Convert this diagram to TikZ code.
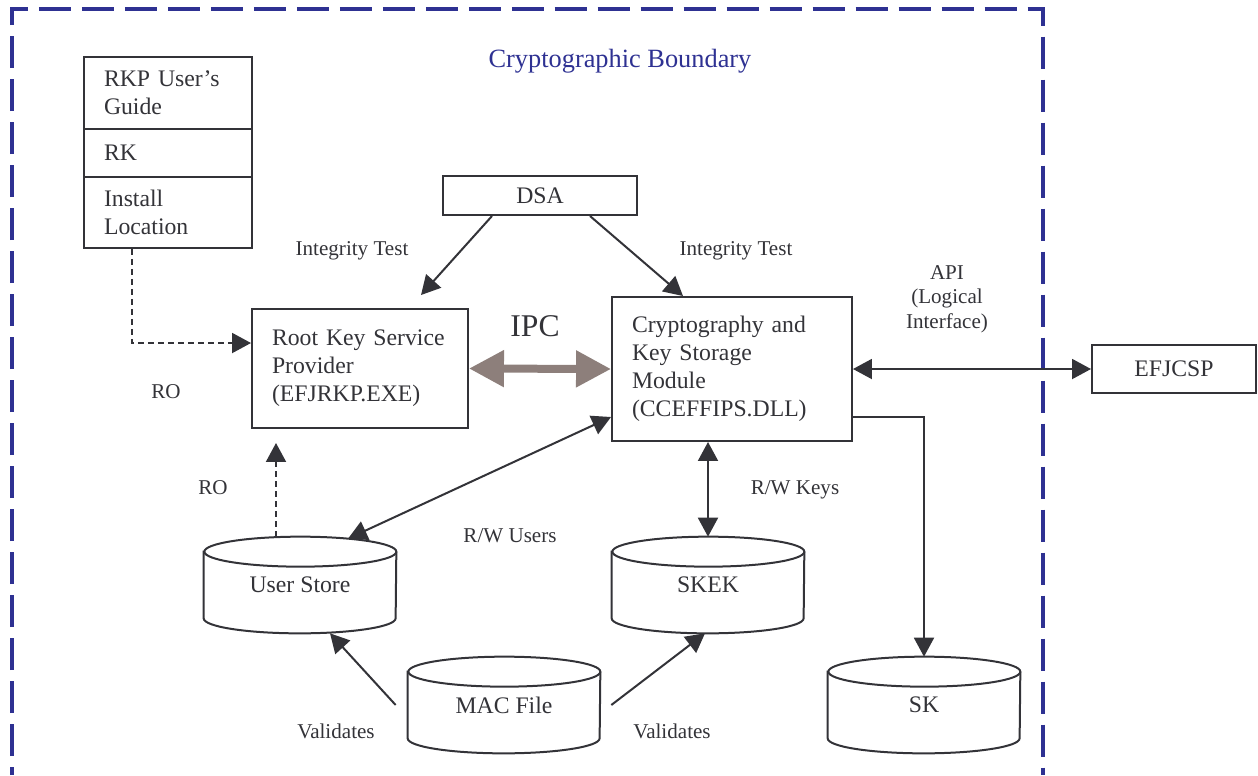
\documentclass[tikz,border=0pt]{standalone}
\usepackage{fontspec}
\setmainfont{Liberation Serif}
\usetikzlibrary{arrows.meta,calc}

\definecolor{ink}{RGB}{51,51,56}
\definecolor{bound}{RGB}{46,49,146}
\definecolor{ipcgray}{RGB}{141,127,123}

\begin{document}
\begin{tikzpicture}[
  x=0.02cm, y=-0.02cm,
  box/.style={
    draw=ink, line width=0.04cm, text=ink, inner sep=0pt,
    font=\fontsize{13.5}{16}\selectfont
  },
  tbox/.style={box, align=left, inner xsep=0.4cm},
  store/.style={
    text=ink, inner sep=0pt, minimum width=3.84cm, minimum height=1.92cm,
    font=\fontsize{13.5}{16}\selectfont
  },
  lbl/.style={text=ink, anchor=base, align=center, font=\fontsize{12}{14}\selectfont},
  arr/.style={-{Triangle[length=0.38cm, width=0.4cm]}, draw=ink, line width=0.04cm},
  biarr/.style={arr, {Triangle[length=0.38cm, width=0.4cm]}-{Triangle[length=0.38cm, width=0.4cm]}},
  dasharr/.style={arr, dash pattern=on 0.12cm off 0.08cm},
  ipc/.style={{Triangle[length=0.7cm, width=0.7cm]}-{Triangle[length=0.7cm, width=0.7cm]},
    draw=ipcgray, line width=0.16cm},
  boundary/.style={draw=bound, line width=0.08cm,
    dash pattern=on 0.64cm off 0.22cm, dash phase=0.48cm},
]
\useasboundingbox (0,0) rectangle (1258,775);

% cryptographic boundary
\draw[boundary] (12,775) -- (12,9) -- (1043,9) -- (1043,775);
\node[lbl, text=bound, font=\fontsize{15}{18}\selectfont] (title) at (620,67) {Cryptographic Boundary};

\node[tbox, text width=2.56cm, minimum height=1.44cm] (guide) at (168,93)    {RKP User's\\Guide};
\node[tbox, text width=2.56cm, minimum height=0.96cm] (rk)    at (168,153)   {RK};
\node[tbox, text width=2.56cm, minimum height=1.42cm] (inst)  at (168,212.5) {Install\\Location};

\node[box, minimum width=3.88cm, minimum height=0.78cm] (dsa) at (540,195.5) {DSA};
\node[tbox, text width=3.52cm, minimum height=2.38cm] (rkp)  at (360,368.5) {Root Key Service\\Provider\\(EFJRKP.EXE)};
\node[tbox, text width=4cm, minimum height=2.88cm]    (cksm) at (732,369)   {Cryptography and\\Key Storage\\Module\\(CCEFFIPS.DLL)};
\node[box, minimum width=3.28cm, minimum height=0.96cm] (efj) at (1174,369) {EFJCSP};

\node[store] (users) at (300,585) {User Store};
\node[store] (skek)  at (708,585) {SKEK};
\node[store] (mac)   at (504,705) {MAC File};
\node[store] (sk)    at (924,705) {SK};

\foreach \s in {users,skek,mac,sk} {
  \draw[draw=ink, line width=0.04cm]
    ([yshift=-0.3cm]\s.north west) -- ([yshift=0.3cm]\s.south west)
    arc[start angle=180, end angle=360, x radius=1.92cm, y radius=0.3cm]
    -- ([yshift=-0.3cm]\s.north east)
    arc[start angle=0, end angle=180, x radius=1.92cm, y radius=0.3cm] -- cycle;
  \draw[draw=ink, line width=0.04cm] ([yshift=-0.3cm]\s.north east)
    arc[start angle=0, end angle=-180, x radius=1.92cm, y radius=0.3cm];
}

% labels
\node[lbl] (itl)  at (352,255) {Integrity Test};
\node[lbl] (itr)  at (736,255) {Integrity Test};
\node[lbl, font=\fontsize{18}{20}\selectfont] (ipclbl) at (535,336) {IPC};
\node[lbl, anchor=center, font=\fontsize{12}{14}\selectfont] (api) at (947,299) {API\\(Logical\\Interface)};
\node[lbl] (ro1)  at (166,398) {RO};
\node[lbl] (ro2)  at (213,494) {RO};
\node[lbl] (rwu)  at (510,542) {R/W Users};
\node[lbl] (rwk)  at (795,494) {R/W Keys};
\node[lbl] (val1) at (336,738) {Validates};
\node[lbl] (val2) at (672,738) {Validates};

% connectors
\draw[arr] ($(dsa.south)+(-48,0)$) -- ($(rkp.north)+(61,-13)$);
\draw[arr] ($(dsa.south)+(50,0)$) -- ($(cksm.north)+(-49,0)$);
\draw[dasharr] ($(inst.south)+(-36,0)$) |- ($(rkp.west)+(0,-25.5)$);
\draw[ipc] (rkp.east) -- (cksm.west);
\draw[biarr] (cksm.east) -- (efj.west);
\draw[arr] ($(cksm.east)+(0,48)$) -| (sk.north);
\draw[biarr] ($(cksm.south)+(-24,0)$) -- (skek.north);
\draw[biarr] ($(users.north)+(48,2)$) -- ($(cksm.west)+(0,48)$);
\draw[dasharr] ($(users.north)+(-24,0)$) -- ($(rkp.south)+(-84,14)$);
\draw[arr] ($(mac.west)+(-12,0)$) -- ($(users.south)+(30,0)$);
\draw[arr] ($(mac.east)+(11,0)$) -- ($(skek.south)+(-3,0)$);

\end{tikzpicture}
\end{document}
